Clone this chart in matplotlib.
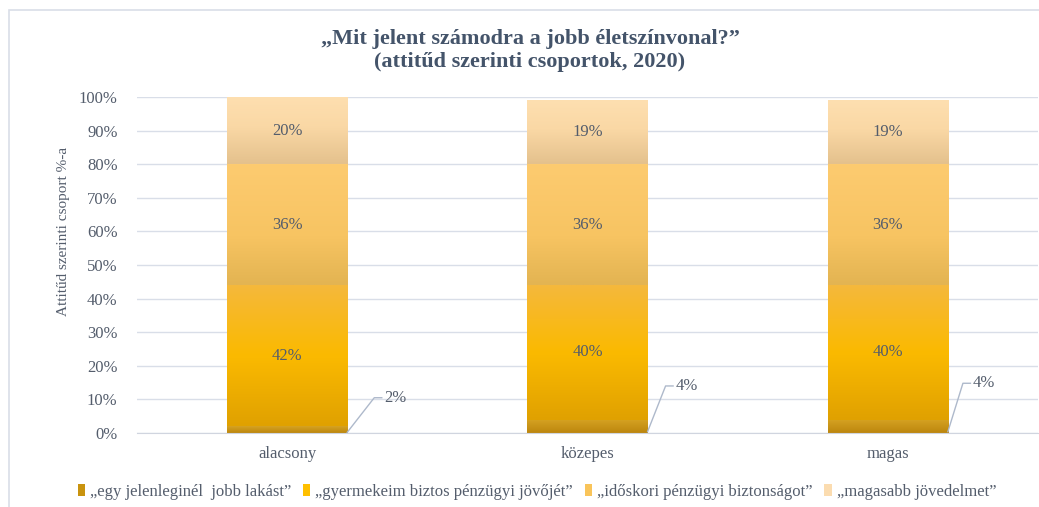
import numpy as np
import matplotlib
matplotlib.use("Agg")
import matplotlib.pyplot as plt
from matplotlib.patches import Patch, Rectangle
from matplotlib.colors import to_rgb

plt.rcParams['font.family'] = ['Liberation Serif', 'DejaVu Serif']

# attitude groups and answer shares (%)
groups = ['alacsony', 'közepes', 'magas']
answers = ['„egy jelenleginél  jobb lakást”',
           '„gyermekeim biztos pénzügyi jövőjét”',
           '„időskori pénzügyi biztonságot”',
           '„magasabb jövedelmet”']
lakas = [2, 4, 4]
gyermek = [42, 40, 40]
idoskori = [36, 36, 36]
jovedelem = [20, 19, 19]
series = [lakas, gyermek, idoskori, jovedelem]

# gradient stops per series, top -> bottom of each segment
grads = [
    [(0.0, '#D6A322'), (1.0, '#BC860E')],
    [(0.0, '#F5B83C'), (0.5, '#FBBA00'), (1.0, '#E0A100')],
    [(0.0, '#FDCB70'), (0.6, '#F7C462'), (1.0, '#E3B452')],
    [(0.0, '#FEDFB0'), (0.45, '#FAD8A5'), (1.0, '#E4C18D')],
]
legend_cols = ['#C9930F', '#FFC000', '#F9C45A', '#FBDCB0']

txt = '#545D6C'
grid_c = '#D9DEE8'

def grad_img(stops, n=100):
    pos = np.linspace(0, 1, n)
    ps = [s[0] for s in stops]
    cs = np.array([to_rgb(s[1]) for s in stops])
    img = np.stack([np.interp(pos, ps, cs[:, k]) for k in range(3)], axis=-1)
    return img[:, None, :]

fig = plt.figure(figsize=(10.39, 5.07), dpi=100)
ax = fig.add_axes([137/1039, 1 - 433/507, (1038 - 137)/1039, (433 - 97)/507])

# outer chart frame (only top/left edges fall inside the image)
fig.patches.append(Rectangle((9/1039, -0.1), 1.2, 1 - 10/507 + 0.1,
                             transform=fig.transFigure, fill=False,
                             edgecolor=grid_c, lw=1.2))

x = np.arange(len(groups))
w = 0.4
bottom = np.zeros(len(groups))
for k, vals in enumerate(series):
    bars = ax.bar(x, vals, w, bottom=bottom, color='none', lw=0, zorder=2)
    img = grad_img(grads[k])
    for b in bars:
        x0, y0 = b.get_x(), b.get_y()
        im = ax.imshow(img, extent=[x0, x0 + b.get_width(), y0, y0 + b.get_height()],
                       aspect='auto', origin='upper', zorder=2, interpolation='bilinear')
        im.set_clip_path(b)
    if k > 0:
        for xi, b0, v in zip(x, bottom, vals):
            ax.text(xi, b0 + v / 2, f'{v}%', ha='center', va='center',
                    fontsize=12, color=txt, zorder=3)
    bottom += np.array(vals)

# small bottom segment labelled outside with leader lines
tips = [(0.29, 10.5), (0.26, 14.0), (0.25, 14.8)]
for xi, v, (dx, ty) in zip(x, lakas, tips):
    sx, sy = xi + w / 2, v * 0.1
    ex = xi + dx
    ax.plot([sx, ex, ex + 0.025], [sy, ty, ty], color='#AEB9CB', lw=1, zorder=3,
            clip_on=False)
    ax.text(ex + 0.032, ty, f'{v}%', ha='left', va='center', fontsize=12, color=txt)

ax.set_xlim(-0.5, 2.5)
ax.set_ylim(0, 100)
ax.set_yticks(np.arange(0, 101, 10))
ax.set_yticklabels([f'{t}%' for t in range(0, 101, 10)])
ax.set_xticks(x)
ax.set_xticklabels(groups)
ax.tick_params(axis='both', length=0, labelsize=12, labelcolor=txt)
ax.tick_params(axis='y', pad=14)
ax.tick_params(axis='x', pad=9)
ax.grid(axis='y', color=grid_c, lw=1, zorder=0)
ax.set_axisbelow(True)
for s in ['top', 'right', 'left']:
    ax.spines[s].set_visible(False)
ax.spines['bottom'].set_color('#D0D5DF')

ax.set_ylabel('Attitűd szerinti csoport %-a', fontsize=11, color=txt)
ax.yaxis.set_label_coords(-0.074, 0.6)

fig.text(530/1039, 1 - 50/507,
         '„Mit jelent számodra a jobb életszínvonal?”\n(attitűd szerinti csoportok, 2020)',
         ha='center', va='center', fontsize=16, fontweight='bold',
         color='#44546A', linespacing=1.2)

handles = [Patch(facecolor=c, edgecolor='none') for c in legend_cols]
fig.legend(handles, answers, loc='center', bbox_to_anchor=(537/1039, 1 - 492/507),
           ncol=4, frameon=False, fontsize=12, labelcolor=txt,
           handlelength=0.45, handleheight=0.7, handletextpad=0.3, columnspacing=0.7)

fig.savefig('out.png', dpi=100)
